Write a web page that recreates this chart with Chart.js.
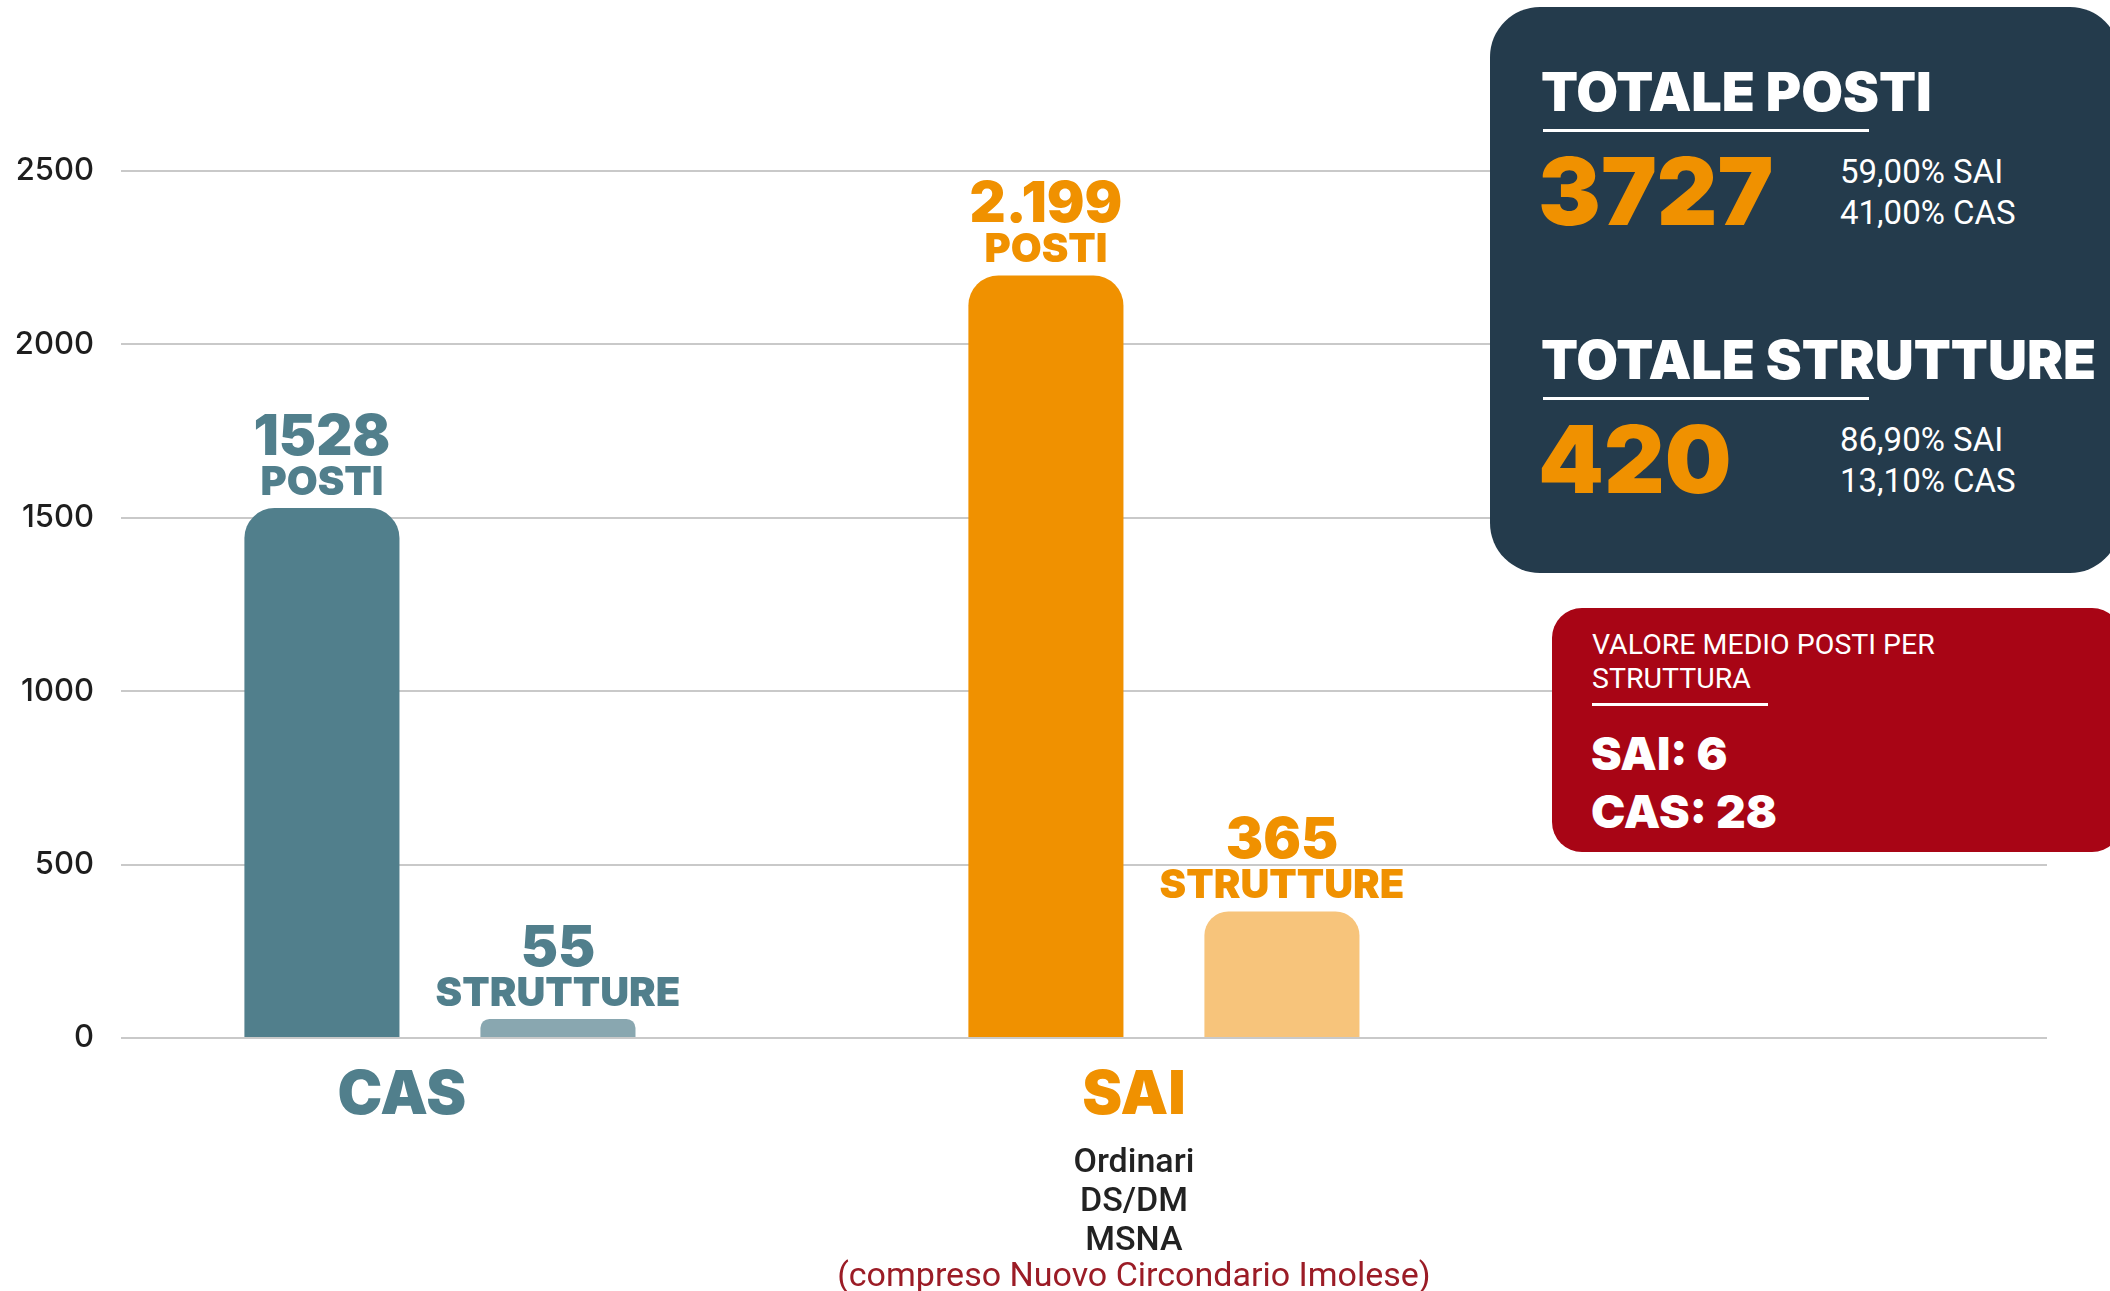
<!DOCTYPE html>
<html lang="it">
<head>
<meta charset="utf-8">
<title>CAS e SAI - posti e strutture</title>
<script src="https://cdn.jsdelivr.net/npm/chart.js@4.4.1/dist/chart.umd.min.js"></script>
<style>
  html, body { margin: 0; padding: 0; background: #ffffff; overflow: hidden; }
  #wrap { position: relative; width: 2110px; height: 1291px; overflow: hidden; }
  #chart { position: absolute; left: 0; top: 0; }
  .box { position: absolute; box-sizing: border-box; color: #ffffff; }
  #darkbox { left: 1490px; top: 7px; width: 630px; height: 566px; background: #243b4c; border-radius: 50px; }
  #redbox { left: 1552px; top: 608px; width: 570px; height: 244px; background: #a80515; border-radius: 30px; }
  .t { position: absolute; white-space: nowrap; line-height: 1; }
  .heavy { font-family: Inter, "Noto Sans", sans-serif; font-weight: 900; }
  .reg { font-family: Roboto, Inter, sans-serif; font-weight: 400; }
  .rule { position: absolute; height: 3px; background: #ffffff; }
</style>
</head>
<body>
<div id="wrap">
  <canvas id="chart" width="2110" height="1291"></canvas>
  <div id="darkbox" class="box"></div>
  <div id="redbox" class="box"></div>
</div>
<script>
// ---- data ----
const categories = ['CAS', 'SAI'];
const posti = [1528, 2199];
const strutture = [55, 365];
const postiText = ['1528', '2.199'];
const struttureText = ['55', '365'];
const seriesWords = ['POSTI', 'STRUTTURE'];
const yTicks = [0, 500, 1000, 1500, 2000, 2500];
const yTickLabels = ['0', '500', '1000', '1500', '2000', '2500'];
const categoryNotes = [[], ['Ordinari', 'DS/DM', 'MSNA']];
const categoryFootnotes = ['', '(compreso Nuovo Circondario Imolese)'];

const totaleTitles = ['TOTALE POSTI', 'TOTALE STRUTTURE'];
const totaleValues = ['3727', '420'];
const totaleShares = [['59,00% SAI', '41,00% CAS'], ['86,90% SAI', '13,10% CAS']];
const medioTitle = ['VALORE MEDIO POSTI PER', 'STRUTTURA'];
const medioValues = ['SAI: 6', 'CAS: 28'];

// ---- colours ----
const mainColors = ['#517f8c', '#f09100'];
const lightColors = ['#89a7b0', '#f7c47b'];
const noteColor = '#222222';
const footColor = '#9b1c26';

// ---- a category scale whose bands are placed inside the plot area ----
class PlacedCategoryScale extends Chart.CategoryScale {
  getPixelForValue(value) {
    if (typeof value !== 'number') value = this.parse(value);
    if (value === null || isNaN(value)) return NaN;
    const p = this.options.placement;
    return this.left + this.width * (p.first + value * p.step);
  }
}
PlacedCategoryScale.id = 'placedCategory';
PlacedCategoryScale.defaults = Chart.CategoryScale.defaults;
Chart.register(PlacedCategoryScale);

const HEAVY = 'Inter, "Noto Sans", sans-serif';
const REG = 'Roboto, Inter, sans-serif';
const labelShift = [-38, -30];

const labelPlugin = {
  id: 'barLabels',
  afterDatasetsDraw(chart) {
    const ctx = chart.ctx;
    ctx.save();
    ctx.textAlign = 'center';
    ctx.textBaseline = 'alphabetic';
    const texts = [postiText, struttureText];
    chart.data.datasets.forEach((ds, di) => {
      const meta = chart.getDatasetMeta(di);
      meta.data.forEach((bar, i) => {
        const wordBase = bar.y - 13;
        ctx.fillStyle = mainColors[i];
        ctx.font = '900 40px ' + HEAVY;
        ctx.fillText(seriesWords[di], bar.x, wordBase);
        ctx.font = '900 56px ' + HEAVY;
        ctx.fillText(texts[di][i], bar.x, wordBase - 40);
      });
    });
    // category labels under the axis
    const x = chart.scales.x;
    const bottom = chart.chartArea.bottom;
    categories.forEach((c, i) => {
      const cx = x.getPixelForValue(i) + labelShift[i];
      ctx.fillStyle = mainColors[i];
      ctx.font = '900 60px ' + HEAVY;
      ctx.fillText(c, cx, bottom + 76);
      ctx.font = '500 34px ' + REG;
      ctx.fillStyle = noteColor;
      categoryNotes[i].forEach((n, k) => {
        ctx.fillText(n, cx, bottom + 134 + k * 39);
      });
      if (categoryFootnotes[i]) {
        ctx.fillStyle = footColor;
        ctx.font = '400 34px ' + REG;
        ctx.fillText(categoryFootnotes[i], cx, bottom + 134 + categoryNotes[i].length * 39 - 3);
      }
    });
    ctx.restore();
  }
};

new Chart(document.getElementById('chart'), {
  type: 'bar',
  data: {
    labels: categories,
    datasets: [
      {
        label: seriesWords[0],
        data: posti,
        backgroundColor: mainColors,
        borderRadius: { topLeft: 30, topRight: 30 },
        borderSkipped: 'bottom'
      },
      {
        label: seriesWords[1],
        data: strutture,
        backgroundColor: lightColors,
        borderRadius: [{ topLeft: 11, topRight: 11 }, { topLeft: 24, topRight: 24 }],
        borderSkipped: 'bottom'
      }
    ]
  },
  options: {
    responsive: false,
    animation: false,
    devicePixelRatio: 1,
    categoryPercentage: 0.652,
    barPercentage: 0.657,
    layout: { padding: { top: 171, bottom: 253, left: 0, right: 63 } },
    plugins: { legend: { display: false }, tooltip: { enabled: false } },
    scales: {
      x: {
        type: 'placedCategory',
        display: false,
        placement: { first: 0.1656, step: 0.3759 },
        grid: { display: false }
      },
      y: {
        min: 0,
        max: 2500,
        afterBuildTicks(scale) { scale.ticks = yTicks.map(v => ({ value: v })); },
        afterFit(scale) { scale.width = 121; },
        ticks: {
          padding: 27,
          color: '#1e1e1e',
          font: { family: 'Inter', size: 31, weight: '500' },
          callback: (value) => yTickLabels[yTicks.indexOf(value)]
        },
        grid: { color: '#c9c9c9', lineWidth: 2, drawTicks: false },
        border: { display: false }
      }
    }
  },
  plugins: [labelPlugin]
});

// ---- info boxes (HTML text) ----
function addText(parent, text, left, baseline, size, cls, color, ascentRatio) {
  const el = document.createElement('div');
  el.className = 't ' + cls;
  el.textContent = text;
  el.style.fontSize = size + 'px';
  el.style.left = left + 'px';
  el.style.top = (baseline - size * ascentRatio) + 'px';
  if (color) el.style.color = color;
  parent.appendChild(el);
  return el;
}
function addRule(parent, left, top, width) {
  const r = document.createElement('div');
  r.className = 'rule';
  r.style.left = left + 'px';
  r.style.top = top + 'px';
  r.style.width = width + 'px';
  parent.appendChild(r);
}
const dark = document.getElementById('darkbox');
const dx = 1490, dy = 7;
const blockBase = [0, 268];
totaleTitles.forEach((title, i) => {
  const o = blockBase[i];
  addText(dark, title, 1541 - dx, 112 + o - dy, 54, 'heavy', '#ffffff', 0.864);
  addRule(dark, 1543 - dx, 129 + o - dy, 326);
  addText(dark, totaleValues[i], 1538 - dx, 225 + o - dy, 94, 'heavy', '#f09100', 0.864);
  totaleShares[i].forEach((s, k) => {
    addText(dark, s, 1840 - dx, 183 + k * 41 + o - dy, 33, 'reg', '#ffffff', 0.842);
  });
});
const red = document.getElementById('redbox');
const rx = 1552, ry = 608;
medioTitle.forEach((s, k) => {
  addText(red, s, 1592 - rx, 655 + k * 34 - ry, 28.5, 'reg', '#ffffff', 0.842);
});
addRule(red, 1592 - rx, 703 - ry, 176);
medioValues.forEach((s, k) => {
  addText(red, s, 1591 - rx, 770 + k * 58 - ry, 46, 'heavy', '#ffffff', 0.864);
});
</script>
</body>
</html>
